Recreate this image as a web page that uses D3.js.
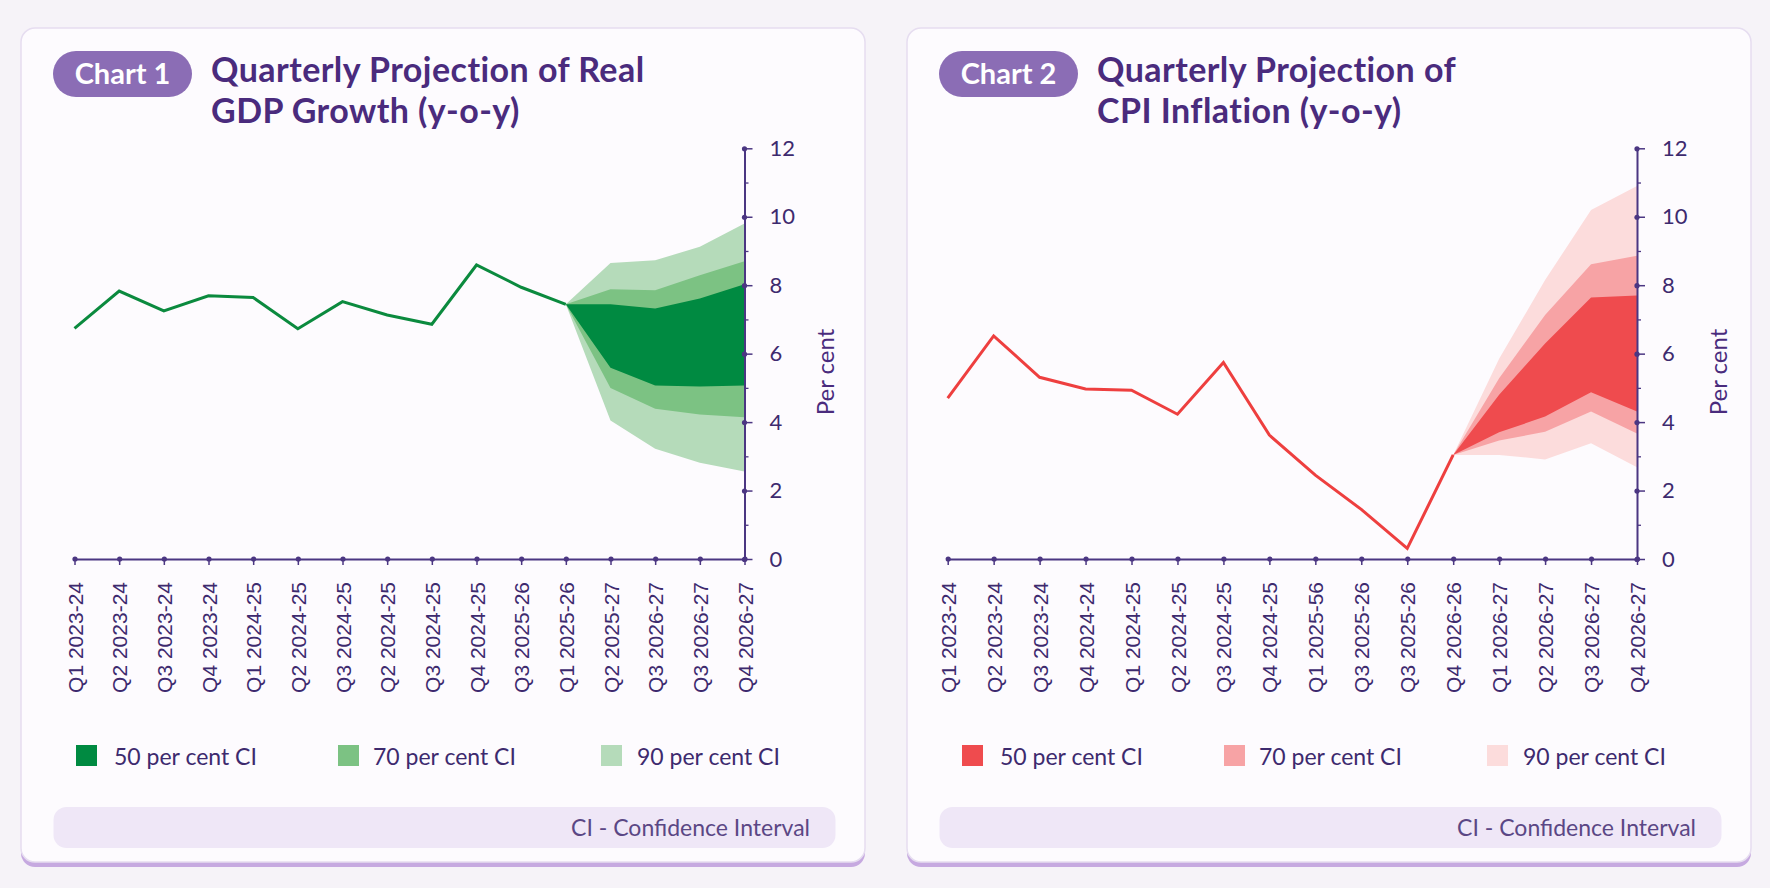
<!DOCTYPE html>
<html>
<head>
<meta charset="utf-8">
<script src="https://cdn.jsdelivr.net/npm/d3@7"></script>
<style>
  html, body { margin: 0; padding: 0; background: #f6f3f8; }
  svg { display: block; }
</style>
</head>
<body>
<svg id="chart" width="1770" height="888"></svg>
<script>
// ---------------- DATA ----------------
const gdpLabels = ["Q1 2023-24","Q2 2023-24","Q3 2023-24","Q4 2023-24","Q1 2024-25","Q2 2024-25","Q3 2024-25","Q2 2024-25","Q3 2024-25","Q4 2024-25","Q3 2025-26","Q1 2025-26","Q2 2025-27","Q3 2026-27","Q3 2026-27","Q4 2026-27"];
const gdpActual = [6.74, 7.83, 7.25, 7.69, 7.64, 6.73, 7.52, 7.13, 6.86, 8.59, 7.94, 7.44];
const gdp90Upper = [7.44, 8.65, 8.73, 9.12, 9.80];
const gdp70Upper = [7.44, 7.88, 7.85, 8.29, 8.70];
const gdp50Upper = [7.44, 7.44, 7.32, 7.61, 8.03];
const gdp50Lower = [7.44, 5.59, 5.07, 5.04, 5.07];
const gdp70Lower = [7.44, 5.00, 4.39, 4.22, 4.14];
const gdp90Lower = [7.44, 4.05, 3.22, 2.81, 2.56];

const cpiLabels = ["Q1 2023-24","Q2 2023-24","Q3 2023-24","Q4 2024-24","Q1 2024-25","Q2 2024-25","Q3 2024-25","Q4 2024-25","Q1 2025-56","Q3 2025-26","Q3 2025-26","Q4 2026-26","Q1 2026-27","Q2 2026-27","Q3 2026-27","Q4 2026-27"];
const cpiActual = [4.70, 6.52, 5.31, 4.97, 4.93, 4.23, 5.74, 3.62, 2.45, 1.45, 0.31, 3.04];
const cpi90Upper = [3.04, 5.85, 8.15, 10.2, 10.9];
const cpi70Upper = [3.04, 5.28, 7.13, 8.61, 8.86];
const cpi50Upper = [3.04, 4.80, 6.30, 7.64, 7.70];
const cpi50Lower = [3.04, 3.70, 4.16, 4.87, 4.31];
const cpi70Lower = [3.04, 3.46, 3.72, 4.31, 3.67];
const cpi90Lower = [3.04, 3.04, 2.91, 3.38, 2.68];

const fanStart = 11; // index where projection begins
const yTicks = [0, 2, 4, 6, 8, 10, 12];
const yMinorTicks = [1, 3, 5, 7, 9, 11];
const legendLabels = ["50 per cent CI", "70 per cent CI", "90 per cent CI"];
const footerText = "CI - Confidence Interval";

// ---------------- DRAW ----------------
const svg = d3.select("#chart");
const purple = "#4a2b7d";
const axisColor = "#4b3682";
const labelColor = "#3d2a6e";
const geo = "Lato, 'Open Sans', sans-serif";

const panels = [
  {
    dx: 0, chartNo: "Chart 1",
    title: ["Quarterly Projection of Real", "GDP Growth (y-o-y)"],
    labels: gdpLabels, actual: gdpActual,
    bands: [[gdp90Lower, gdp90Upper], [gdp70Lower, gdp70Upper], [gdp50Lower, gdp50Upper]],
    colors: ["#b5dbba", "#7cc283", "#008a41"], line: "#0b8a3e",
    xRange: [74.5, 744.5]
  },
  {
    dx: 886, chartNo: "Chart 2",
    title: ["Quarterly Projection of", "CPI Inflation (y-o-y)"],
    labels: cpiLabels, actual: cpiActual,
    bands: [[cpi90Lower, cpi90Upper], [cpi70Lower, cpi70Upper], [cpi50Lower, cpi50Upper]],
    colors: ["#fcdcdc", "#f7a3a5", "#ef4b4e"], line: "#ee3f3f",
    xRange: [947.7, 1637]
  }
];

const y = d3.scaleLinear().domain([0, 12]).range([559, 148.3]);

panels.forEach(p => {
  const g = svg.append("g");
  const dx = p.dx;

  // card
  g.append("rect").attr("x", 21 + dx).attr("y", 33).attr("width", 844).attr("height", 834)
    .attr("rx", 14).attr("fill", "#c6a9e0");
  g.append("rect").attr("x", 21 + dx).attr("y", 28).attr("width", 844).attr("height", 834)
    .attr("rx", 14).attr("fill", "#fdfbfe").attr("stroke", "#e6ddf0").attr("stroke-width", 1.5);

  // pill
  g.append("rect").attr("x", 53 + dx).attr("y", 51).attr("width", 139).attr("height", 46)
    .attr("rx", 23).attr("fill", "#8b6db5");
  g.append("text").attr("x", 122.5 + dx).attr("y", 74).attr("dy", "0.36em")
    .attr("text-anchor", "middle").attr("fill", "#ffffff")
    .style("font-family", geo).style("font-weight", 700).style("font-size", "29px")
    .text(p.chartNo);

  // title (two lines)
  p.title.forEach((t, i) => {
    g.append("text").attr("x", 211 + dx).attr("y", 82 + i * 41)
      .attr("fill", purple)
      .style("font-family", geo).style("font-weight", 700).style("font-size", "34px")
      .style("letter-spacing", "0.45px")
      .text(t);
  });

  const x = d3.scalePoint().domain(d3.range(p.labels.length)).range(p.xRange);

  // fan bands
  p.bands.forEach((b, bi) => {
    const pts = b[0].map((lo, k) => ({ i: fanStart + k, lo: lo, hi: b[1][k] }));
    const area = d3.area().x(d => x(d.i)).y0(d => y(d.lo)).y1(d => y(d.hi));
    g.append("path").datum(pts).attr("d", area).attr("fill", p.colors[bi]);
  });

  // actual line
  const line = d3.line().x((d, i) => x(i)).y(d => y(d));
  g.append("path").datum(p.actual).attr("d", line)
    .attr("fill", "none").attr("stroke", p.line).attr("stroke-width", 3)
    .attr("stroke-linejoin", "miter");

  // x axis
  const xAxis = d3.axisBottom(x).tickSize(6).tickSizeOuter(0).tickFormat(i => p.labels[i]);
  const gx = g.append("g").attr("transform", `translate(0,${y(0)})`).call(xAxis);
  gx.select(".domain").attr("stroke", axisColor).attr("stroke-width", 2);
  gx.selectAll(".tick line").attr("stroke", axisColor).attr("stroke-width", 1.5);
  gx.selectAll(".tick").append("circle").attr("r", 2.6).attr("fill", axisColor);
  gx.selectAll(".tick text")
    .attr("transform", "rotate(-90)")
    .attr("x", -23).attr("y", 0).attr("dy", "0.36em")
    .attr("text-anchor", "end")
    .attr("fill", labelColor)
    .style("font-family", "'Liberation Sans', Arial, sans-serif").style("font-size", "21px");

  // y axis
  const axisX = p.xRange[1];
  const yAxis = d3.axisRight(y).tickValues(yTicks).tickSize(8).tickPadding(17).tickSizeOuter(0);
  const gy = g.append("g").attr("transform", `translate(${axisX},0)`).call(yAxis);
  gy.select(".domain").attr("stroke", axisColor).attr("stroke-width", 2);
  gy.selectAll(".tick line").attr("stroke", axisColor).attr("stroke-width", 1.5);
  gy.selectAll(".tick").append("circle").attr("r", 2.6).attr("fill", axisColor);
  gy.selectAll(".tick text").attr("fill", labelColor)
    .style("font-family", geo).style("font-size", "22px");

  const yMinor = d3.axisRight(y).tickValues(yMinorTicks).tickSize(4).tickFormat("").tickSizeOuter(0);
  const gym = g.append("g").attr("transform", `translate(${axisX},0)`).call(yMinor);
  gym.select(".domain").remove();
  gym.selectAll(".tick line").attr("stroke", axisColor).attr("stroke-width", 1.3);

  // y axis title
  g.append("text").attr("transform", `translate(${axisX + 81},${372}) rotate(-90)`)
    .attr("text-anchor", "middle").attr("dy", "0.36em").attr("fill", purple)
    .style("font-family", geo).style("font-size", "24px")
    .text("Per cent");

  // legend
  const swX = [76, 338, 601];
  const txX = [114, 373, 637];
  const legendColors = [p.colors[2], p.colors[1], p.colors[0]];
  legendLabels.forEach((lab, i) => {
    g.append("rect").attr("x", swX[i] + dx).attr("y", 745).attr("width", 21).attr("height", 21)
      .attr("fill", legendColors[i]);
    g.append("text").attr("x", txX[i] + dx).attr("y", 765).attr("fill", labelColor)
      .style("font-family", geo).style("font-size", "23px")
      .text(lab);
  });

  // footer
  g.append("rect").attr("x", 53.5 + dx).attr("y", 807).attr("width", 782).attr("height", 41)
    .attr("rx", 13).attr("fill", "#efe7f7");
  g.append("text").attr("x", 810 + dx).attr("y", 836).attr("text-anchor", "end")
    .attr("fill", "#5b4785")
    .style("font-family", geo).style("font-size", "23px")
    .text(footerText);
});
</script>
</body>
</html>
